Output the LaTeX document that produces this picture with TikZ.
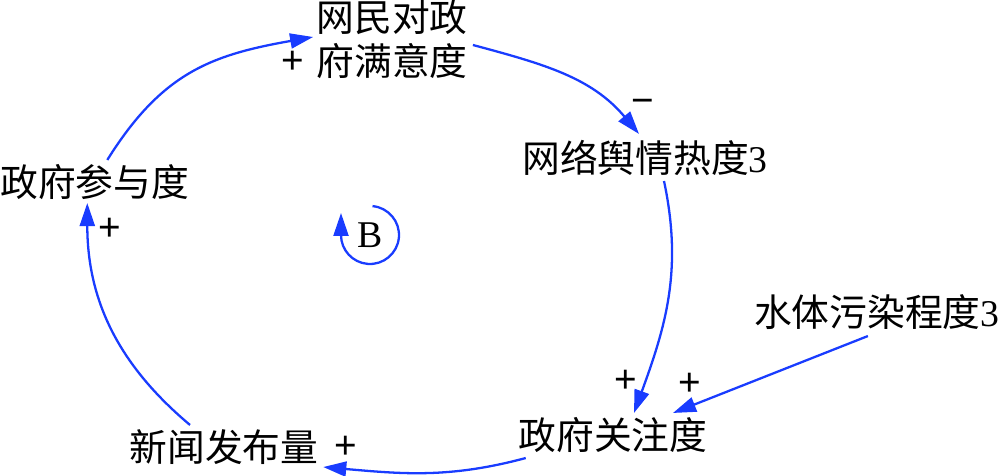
\documentclass[tikz,border=0pt]{standalone}
\usepackage{fontspec}
\setmainfont{Liberation Serif}
\setsansfont{Liberation Sans}
\newfontfamily\cjk{Noto Sans CJK SC}
\usepackage{tikz}
\usetikzlibrary{arrows.meta, calc}
\definecolor{linkblue}{RGB}{25,60,255}

\begin{document}
\begin{tikzpicture}[x=0.02cm, y=0.02cm, varfont/.style={inner sep=0pt, font=\fontsize{21.5pt}{25pt}\selectfont\cjk}, var/.style={varfont, text height=17pt, text depth=2pt}, sign/.style={inner sep=0pt, font=\fontsize{22pt}{24pt}\selectfont\sffamily}, link/.style={draw=linkblue, line width=1.3pt}, ->, >={Triangle[length=0.46cm, width=0.3cm]}]
        \useasboundingbox (0,0) rectangle (1000,476);
        \node[var, anchor=west] (partic) at (0,293) {政府参与度};
        \node[varfont, align=center] (sat) at (392,437) {网民对政\\府满意度};
        \node[var] (heat) at (645,317) {网络舆情热度{\rmfamily 3}};
        \node[var, anchor=east] (water) at (1000,163) {水体污染程度{\rmfamily 3}};
        \node[var] (attn) at (613,40) {政府关注度};
        \node[var] (news) at (224,28) {新闻发布量};
        \node[varfont] (loopB) at (370,241) {\rmfamily B};
        \path ($(partic.north)+(12.5,6)$) edge[link, out=58, in=190, looseness=1.1] node[sign, pos=1, xshift=-0.4cm, yshift=-0.5cm] {+} ($(sat.west)+(-3,2)$);
        \path ($(sat.east)+(5,-6)$) edge[link, out=-15, in=130] node[sign, pos=1, xshift=0.08cm, yshift=0.56cm] {−} ($(heat.north)+(-6,8)$);
        \path ($(heat.south)+(19,-5)$) edge[link, out=-78, in=70] node[sign, pos=1, xshift=-0.16cm, yshift=0.64cm] {+} ($(attn.north)+(21,6)$);
        \path ($(water.south)+(-9,-6)$) edge[link] node[sign, pos=1, xshift=0.34cm, yshift=0.58cm] {+} ($(attn.north)+(60,6)$);
        \path ($(attn.south west)+(7.5,-5)$) edge[link, out=195, in=-5] node[sign, pos=1, xshift=0.44cm, yshift=0.40cm] {+} ($(news.south east)+(4.5,-2)$);
        \path ($(news.north)+(-34,6)$) edge[link, out=140, in=270] node[sign, pos=1, xshift=0.46cm, yshift=-0.52cm] {+} ($(partic.south)+(-7.5,-3)$);
        \draw[link] (loopB) ++(85:0.58cm) arc[start angle=85, end angle=-180, radius=0.58cm] -- ++(0,0.44cm);
    \end{tikzpicture}
\end{document}
